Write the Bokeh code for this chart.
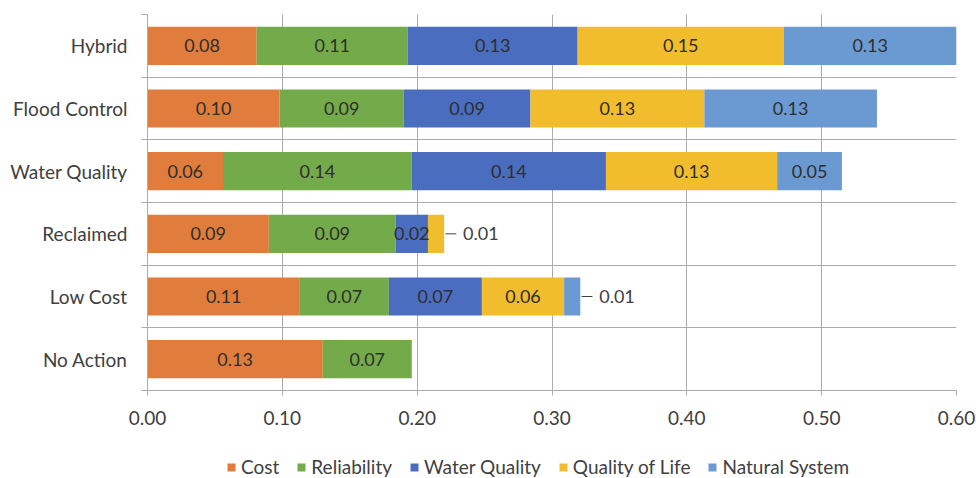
import numpy as np
from bokeh.plotting import figure
from bokeh.layouts import column
from bokeh.models import (ColumnDataSource, Range1d, FixedTicker, Legend, LegendItem,
                          NumeralTickFormatter)
from bokeh.core.properties import value
from bokeh.embed import file_html
from bokeh.resources import INLINE

# ---- data (top to bottom) ----
categories = ["Hybrid", "Flood Control", "Water Quality", "Reclaimed", "Low Cost", "No Action"]
series = ["Cost", "Reliability", "Water Quality", "Quality of Life", "Natural System"]
cost = [0.081, 0.098, 0.056, 0.090, 0.113, 0.130]
reliability = [0.112, 0.092, 0.140, 0.094, 0.066, 0.066]
water_quality = [0.126, 0.094, 0.144, 0.024, 0.069, 0.0]
quality_of_life = [0.153, 0.129, 0.127, 0.012, 0.061, 0.0]
natural_system = [0.128, 0.128, 0.048, 0.0, 0.012, 0.0]
x_ticks = [0.0, 0.1, 0.2, 0.3, 0.4, 0.5, 0.6]

colors = ["#E07D3C", "#74AB4A", "#4A6DBF", "#F1BD2D", "#6B9AD2"]
values = [cost, reliability, water_quality, quality_of_life, natural_system]

FONT = "Lato"
FS = "18px"
n = len(categories)
ypos = np.array([n - 0.5 - i for i in range(n)])

p = figure(frame_width=809, frame_height=376, x_range=Range1d(0, 0.6), y_range=Range1d(0, n),
           output_backend="svg", toolbar_location=None,
           min_border_left=147, min_border_right=20, min_border_top=14, min_border_bottom=43)
p.outline_line_color = None
p.background_fill_color = "white"

# grids
p.xgrid.ticker = FixedTicker(ticks=x_ticks)
p.xgrid.grid_line_color = "#ABABAB"
p.ygrid.ticker = FixedTicker(ticks=list(range(n + 1)))
p.ygrid.grid_line_color = "#ABABAB"

# x axis
p.xaxis.ticker = FixedTicker(ticks=x_ticks)
p.xaxis.formatter = NumeralTickFormatter(format="0.00")
p.xaxis.axis_line_color = "#ABABAB"
p.xaxis.major_tick_line_color = "#ABABAB"
p.xaxis.major_tick_out = 5
p.xaxis.major_tick_in = 0
p.xaxis.minor_tick_line_color = None
p.xaxis.major_label_text_font = FONT
p.xaxis.major_label_text_font_size = "19px"
p.xaxis.major_label_text_color = "#404040"
p.xaxis.major_label_standoff = 15

# y axis
p.yaxis.ticker = FixedTicker(ticks=list(ypos), minor_ticks=list(range(n + 1)))
p.yaxis.major_label_overrides = {float(y): c for y, c in zip(ypos, categories)}
p.yaxis.major_tick_line_color = None
p.yaxis.minor_tick_line_color = "#ABABAB"
p.yaxis.minor_tick_out = 6
p.yaxis.minor_tick_in = 0
p.yaxis.axis_line_color = "#ABABAB"
p.yaxis.major_label_text_font = FONT
p.yaxis.major_label_text_font_size = "19px"
p.yaxis.major_label_text_color = "#404040"
p.yaxis.major_label_standoff = 14

# legend strip below (frame aligns with the main plot's frame)
p2 = figure(width=976, height=45, output_backend="svg", toolbar_location=None,
            x_range=Range1d(0, 1), y_range=Range1d(0, 1),
            x_axis_location=None, y_axis_location=None, min_border=0)
p2.outline_line_color = None
p2.xgrid.visible = False
p2.ygrid.visible = False

items = []
left = np.zeros(n)
lab_x, lab_y, lab_t = [], [], []
out_x0, out_x1, out_y, out_tx, out_t = [], [], [], [], []
totals = np.sum(np.array(values), axis=0)
for s, col, vals in zip(series, colors, values):
    v = np.array(vals)
    right = left + v
    src = ColumnDataSource(dict(y=ypos, left=left, right=right))
    p.hbar(y="y", left="left", right="right", height=0.61, source=src,
           fill_color=col, line_color=None)
    # legend proxy (drawn outside the strip's visible range)
    r2 = p2.hbar(y=[-10], left=[0], right=[0.1], height=0.5, fill_color=col, line_color=None)
    items.append(LegendItem(label=s, renderers=[r2]))
    for i in range(n):
        if v[i] <= 0:
            continue
        txt = f"{v[i]:.2f}"
        if v[i] < 0.02:
            out_x0.append(totals[i] + 0.001)
            out_x1.append(totals[i] + 0.009)
            out_y.append(ypos[i])
            out_tx.append(totals[i] + 0.014)
            out_t.append(txt)
        else:
            lab_x.append(left[i] + v[i] / 2)
            lab_y.append(ypos[i])
            lab_t.append(txt)
    left = right

p.text(x=lab_x, y=lab_y, text=lab_t, text_align="center", text_baseline="middle",
       text_font=value(FONT), text_font_size=FS, text_color="#2E2E2E")
p.segment(x0=out_x0, x1=out_x1, y0=out_y, y1=out_y, line_color="#404040", line_width=1)
p.text(x=out_tx, y=out_y, text=out_t, text_align="left", text_baseline="middle",
       text_font=value(FONT), text_font_size=FS, text_color="#404040")

legend = Legend(items=items, orientation="horizontal", location=(79, 0),
                border_line_color=None, background_fill_alpha=0,
                label_text_font=FONT, label_text_font_size="19px", label_text_color="#404040",
                glyph_width=10, glyph_height=10, label_standoff=5, spacing=17,
                padding=0, margin=0, label_height=19)
p2.add_layout(legend, "center")

open("out.html", "w").write(file_html(column(p, p2, spacing=0), INLINE))
